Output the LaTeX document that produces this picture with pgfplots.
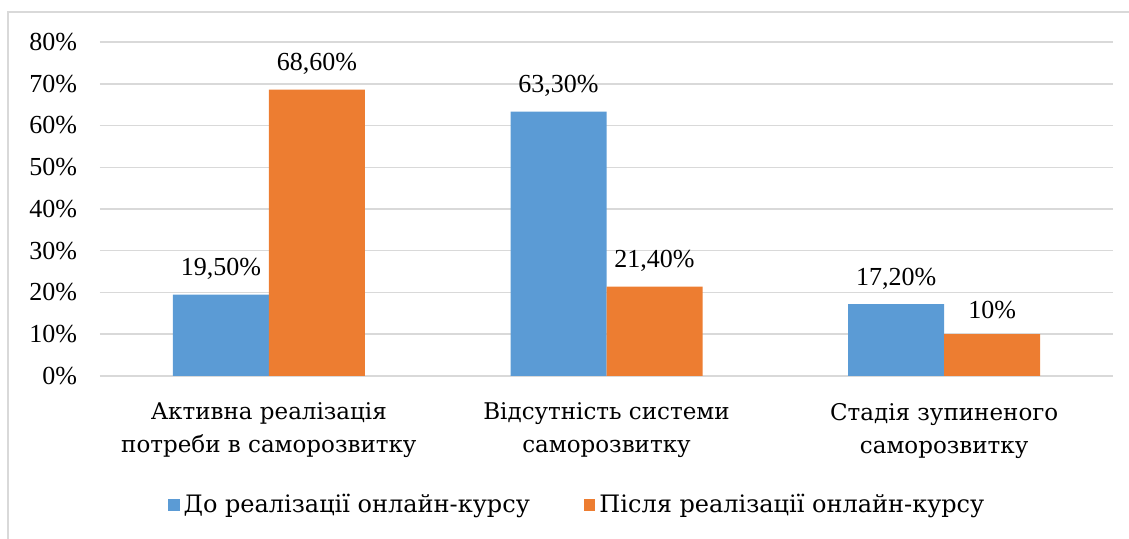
\documentclass[border=0pt]{standalone}
\usepackage{fontspec}
\setmainfont{Liberation Serif}
\newfontfamily\catfont{DejaVu Serif}
\usepackage{pgfplots}
\pgfplotsset{compat=1.18}
\definecolor{cblue}{HTML}{5B9BD5}
\definecolor{corange}{HTML}{ED7D31}
\definecolor{cgrid}{HTML}{D9D9D9}
\pgfplotstableread{
x y lab
0 19.5 {19,50\%}
1 63.3 {63,30\%}
2 17.2 {17,20\%}
}\before
\pgfplotstableread{
x y lab
0 68.6 {68,60\%}
1 21.4 {21,40\%}
2 10 {10\%}
}\after
\begin{document}
\begin{tikzpicture}
\useasboundingbox (0,0) rectangle (564.5pt,269.5pt);
\draw[cgrid, line width=0.75pt] (4pt,-2pt) -- (4pt,263.5pt) -- (567pt,263.5pt);
\begin{axis}[
  at={(50pt,81.5pt)}, anchor=south west,
  scale only axis, width=506.5pt, height=167pt,
  xmin=-0.5, xmax=2.5, ymin=0, ymax=80,
  ybar=0pt, bar width=48pt,
  ytick={0,10,...,80},
  yticklabel={\pgfmathprintnumber{\tick}\%},
  /pgf/number format/assume math mode=true,
  yticklabel style={font=\fontsize{13}{15}\selectfont, xshift=-8pt},
  ymajorgrids, grid style={cgrid, line width=0.75pt},
  axis line style={draw=none}, major tick length=0pt,
  xtick={0,1,2},
  xticklabels={{Активна реалізація\\потреби в саморозвитку},{Відсутність системи\\саморозвитку},{Стадія зупиненого\\саморозвитку}},
  xticklabel style={align=center, font=\catfont\fontsize{11.5}{16.5}\selectfont, yshift=-10pt},
  nodes near coords, point meta=explicit symbolic,
  every node near coord/.append style={font=\fontsize{13}{15}\selectfont, yshift=4pt},
  legend style={at={(0.472,-0.386)}, anchor=center, draw=none, legend columns=2,
    font=\catfont\fontsize{12}{15}\selectfont,
    /tikz/every even column/.append style={column sep=25pt}},
  legend image code/.code={\fill[#1] (0pt,-2.9pt) rectangle (5.8pt,2.9pt);},
]
\addplot[fill=cblue, draw=none] table[x=x, y=y, meta=lab] {\before};
\addplot[fill=corange, draw=none] table[x=x, y=y, meta=lab] {\after};
\legend{До реалізації онлайн-курсу, Після реалізації онлайн-курсу}
\end{axis}
\end{tikzpicture}
\end{document}
